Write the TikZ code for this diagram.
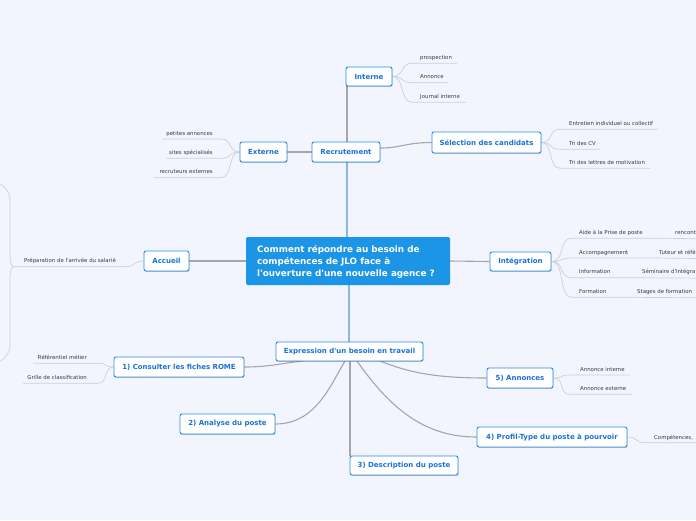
\documentclass[tikz,border=0pt]{standalone}
\usepackage{fontspec}
\setmainfont{DejaVu Sans}
\usetikzlibrary{shadows}
\pgfdeclarelayer{backfill}
\pgfdeclarelayer{lines}
\pgfsetlayers{backfill,lines,main}
\definecolor{bg}{HTML}{F2F5FD}
\definecolor{boxborder}{HTML}{2A8BEA}
\definecolor{boxtext}{HTML}{1A72D6}
\definecolor{centralfill}{HTML}{1C95E7}
\definecolor{mainline}{HTML}{A6A6A6}
\definecolor{blueline}{HTML}{8DB6E6}
\definecolor{leafline}{HTML}{CDD0D6}
\definecolor{leaftext}{HTML}{3A3A3A}
\tikzset{
  box/.style={draw=boxborder, line width=0.9pt, fill=white, rounded corners=2pt,
    text=boxtext, font=\bfseries\fontsize{7}{8}\selectfont, inner sep=0pt,
    drop shadow={shadow xshift=0.4pt, shadow yshift=-0.8pt, fill=black, opacity=0.22}},
  centralbox/.style={fill=centralfill, rounded corners=2pt, text=white,
    font=\bfseries\fontsize{8.8}{12}\selectfont, inner sep=0pt, align=left},
  leafR/.style={font=\fontsize{5.4}{6}\selectfont, text=leaftext, inner sep=0pt, anchor=base west},
  leafL/.style={font=\fontsize{5.4}{6}\selectfont, text=leaftext, inner sep=0pt, anchor=base east},
  conn/.style={draw=mainline, line width=1.1pt},
  bconn/.style={draw=blueline, line width=1.1pt},
  lconn/.style={draw=leafline, line width=0.7pt},
}
\newcommand{\sq}{\textquotesingle}
\begin{document}
\begin{tikzpicture}[x=1pt,y=-1pt]
\useasboundingbox (0,0) rectangle (696,520);
\begin{pgfonlayer}{backfill}
\fill[bg] (0,0) rectangle (696,520);
\end{pgfonlayer}
\clip (0,0) rectangle (696,520);

% ---------- main nodes ----------
\node[centralbox, minimum width=204pt, minimum height=48pt] (c) at (348,261) {};
\node[centralbox, fill=none, anchor=west] (ctext) at (257,261.5) {Comment répondre au besoin de\\compétences de JLO face à\\l\sq ouverture d\sq une nouvelle agence ?};

\node[box, minimum width=46pt, minimum height=19pt] (interne) at (369,76.5) {Interne};
\node[box, minimum width=68pt, minimum height=20pt] (recrut) at (346,152) {Recrutement};
\node[box, minimum width=47pt, minimum height=20pt] (externe) at (263.5,152) {Externe};
\node[box, minimum width=109pt, minimum height=21pt] (select) at (486.5,142.5) {Sélection des candidats};
\node[box, minimum width=61pt, minimum height=19pt] (integ) at (520.5,261.5) {Intégration};
\node[box, minimum width=45pt, minimum height=20pt] (accueil) at (166.5,261) {Accueil};
\node[box, minimum width=147pt, minimum height=19pt] (expr) at (349.5,351.5) {Expression d\sq un besoin en travail};
\node[box, minimum width=130pt, minimum height=20pt] (rome) at (179,367) {1) Consulter les fiches ROME};
\node[box, minimum width=95pt, minimum height=20pt] (analyse) at (227.5,424) {2) Analyse du poste};
\node[box, minimum width=108pt, minimum height=19pt] (descr) at (404,465.5) {3) Description du poste};
\node[box, minimum width=150pt, minimum height=20pt] (profil) at (552,437) {4) Profil-Type du poste à pourvoir};
\node[box, minimum width=66pt, minimum height=20pt] (annonces) at (520,378) {5) Annonces};

% ---------- leaf texts ----------
\node[leafR] (l1) at (420,59.3) {prospection};
\node[leafR] (l2) at (420,78.7) {Annonce};
\node[leafR] (l3) at (420,98.3) {Journal interne};
\node[leafL] (l4) at (213,135) {petites annonces};
\node[leafL] (l5) at (213,154.3) {sites spécialisés};
\node[leafL] (l6) at (213,173.7) {recruteurs externes};
\node[leafR] (l7) at (569,125.3) {Entretien individuel ou collectif};
\node[leafR] (l8) at (569,145.3) {Tri des CV};
\node[leafR] (l9) at (569,164.3) {Tri des lettres de motivation};
\node[leafR] (l10) at (579,234.3) {Aide à la Prise de poste};
\node[leafR] (l11) at (579,254) {Accompagnement};
\node[leafR] (l12) at (579,273.7) {Information};
\node[leafR] (l13) at (579,293.3) {Formation};
\node[leafR] (g10) at (675,234.3) {rencont};
\node[leafR] (g11) at (659,254) {Tuteur et réfé};
\node[leafR] (g12) at (642,273.7) {Séminaire d\sq Intégra};
\node[leafR] (g13) at (637,293.3) {Stages de formation};
\node[leafR] (l14) at (24,262.7) {Préparation de l\sq arrivée du salarié};
\node[leafL] (l15) at (87,359.3) {Référentiel métier};
\node[leafL] (l16) at (87,379.3) {Grille de classification};
\node[leafR] (l17) at (580,371) {Annonce interne};
\node[leafR] (l18) at (580,390.3) {Annonce externe};
\node[leafR] (l19) at (654,439.7) {Compétences,};

% ---------- coordinates ----------
\coordinate (ctop) at (347,237);
\coordinate (cbot) at (349,285);
\coordinate (eb1) at (303,361);
\coordinate (eb2) at (345,361);
\coordinate (eb3) at (350,361);
\coordinate (eb4) at (357,361);
\coordinate (eb5) at (380,361);
\coordinate (rt) at (347,142);
\coordinate (rb) at (347,162);
\coordinate (it) at (347,86);
\coordinate (dt) at (350,456);
\coordinate (et) at (349,342);

\coordinate (u1a) at (412,63.3);  \coordinate (u1b) at (457,63.3);
\coordinate (u2a) at (412,82.7);  \coordinate (u2b) at (448,82.7);
\coordinate (u3a) at (412,102.3); \coordinate (u3b) at (466,102.3);
\coordinate (u4a) at (221,139);   \coordinate (u4b) at (162,139);
\coordinate (u5a) at (221,158.3); \coordinate (u5b) at (166,158.3);
\coordinate (u6a) at (221,177.7); \coordinate (u6b) at (154,177.7);
\coordinate (u7a) at (560,129.3); \coordinate (u7b) at (658,129.3);
\coordinate (u8a) at (560,149.3); \coordinate (u8b) at (600,149.3);
\coordinate (u9a) at (560,168.3); \coordinate (u9b) at (650,168.3);
\coordinate (u10a) at (572,238.3); \coordinate (u10m) at (667,238.3); \coordinate (u10b) at (700,238.8);
\coordinate (u11a) at (572,258);   \coordinate (u11m) at (651,258);   \coordinate (u11b) at (700,258.5);
\coordinate (u12a) at (572,277.7); \coordinate (u12m) at (634,277.7); \coordinate (u12b) at (700,278.2);
\coordinate (u13a) at (572,297.3); \coordinate (u13m) at (629,297.3); \coordinate (u13b) at (700,297.8);
\coordinate (u14a) at (125,266.7); \coordinate (u14b) at (14,266.7);
\coordinate (u15a) at (98,363.3);  \coordinate (u15b) at (33,363.3);
\coordinate (u16a) at (98,383.3);  \coordinate (u16b) at (23,383.3);
\coordinate (u17a) at (570,375);   \coordinate (u17b) at (630,375);
\coordinate (u18a) at (570,394.3); \coordinate (u18b) at (632,394.3);
\coordinate (u19a) at (645,442.7); \coordinate (u19b) at (700,442.7);
\coordinate (kTop) at (-3,183);
\coordinate (kBot) at (-3,362);

\begin{pgfonlayer}{lines}
\draw[bconn] (rb) -- (ctop);
\draw[bconn] (cbot) -- (et);
\draw[conn] (rt) -- (it);
\draw[conn] (recrut.west) -- (externe.east);
\draw[conn] (recrut.east) ++(0,-4) .. controls +(20,0) and +(-25,0) .. (select.west);
\draw[conn] (c.east) -- (integ.west);
\draw[conn] (c.west) -- (accueil.east);
\draw[conn] (rome.east) .. controls +(25,0) and +(-20,2) .. (eb1);
\draw[conn] (analyse.east) .. controls +(40,0) and +(-15,25) .. (eb2);
\draw[conn] (eb3) -- (dt);
\draw[conn] (eb4) .. controls +(35,50) and +(-50,0) .. (profil.west);
\draw[conn] (eb5) .. controls +(30,12) and +(-50,0) .. (annonces.west);

\foreach \n in {1,2,3}
  \draw[lconn] (interne.east) .. controls +(12,0) and +(-12,0) .. (u\n a) -- (u\n b);
\foreach \n in {4,5,6}
  \draw[lconn] (externe.west) .. controls +(-12,0) and +(12,0) .. (u\n a) -- (u\n b);
\foreach \n in {7,8,9}
  \draw[lconn] (select.east) .. controls +(12,0) and +(-12,0) .. (u\n a) -- (u\n b);
\foreach \n in {10,11,12,13}
  \draw[lconn] (integ.east) .. controls +(14,0) and +(-14,0) .. (u\n a) -- (u\n m) -- (u\n b);
\draw[lconn] (accueil.west) .. controls +(-12,0) and +(12,0) .. (u14a) -- (u14b);
\draw[lconn] (u14b) .. controls +(-4,0) and +(0,6) .. ++(-4,-14) -- ++(0,-53) .. controls +(0,-8) and +(5,0) .. (kTop);
\draw[lconn] (u14b) .. controls +(-4,0) and +(0,-6) .. ++(-4,14) -- ++(0,65) .. controls +(0,8) and +(5,0) .. (kBot);
\foreach \n in {15,16}
  \draw[lconn] (rome.west) .. controls +(-10,0) and +(10,0) .. (u\n a) -- (u\n b);
\foreach \n in {17,18}
  \draw[lconn] (annonces.east) .. controls +(12,0) and +(-12,0) .. (u\n a) -- (u\n b);
\draw[lconn] (profil.east) .. controls +(10,0) and +(-10,0) .. (u19a) -- (u19b);
\end{pgfonlayer}
\end{tikzpicture}
\end{document}
